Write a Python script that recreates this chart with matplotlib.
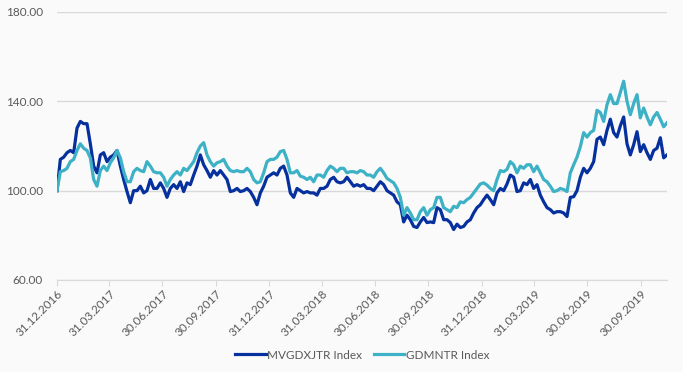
import pandas as pd
import matplotlib
matplotlib.use('Agg')
import matplotlib.pyplot as plt
import matplotlib.dates as mdates
from matplotlib.ticker import FormatStrFormatter

# Index levels (rebased to 100 at 31.12.2016), roughly every 6 days
mvgdxjtr = [
    100, 114, 115, 117, 118, 117, 128, 131, 130, 130, 121, 111,
    108, 116, 117, 113, 115, 116, 118, 111, 105, 99.6, 94.6, 100,
    100, 102, 99, 100, 105, 101, 101, 103.5, 101, 97, 101, 102.7,
    101, 104, 99.6, 103.5, 102.7, 107, 111, 116, 111.6, 109, 106, 109,
    107, 109, 107, 105, 99.6, 100, 101, 99.6, 100, 101, 99.6, 97,
    93.7, 99, 102, 106, 107, 108, 107, 110, 111, 107, 99, 97,
    101, 100, 99, 99.6, 99, 99, 98, 101, 101, 102, 105, 106,
    104, 103.5, 104, 106, 104, 102, 102.7, 102, 102.7, 101, 101, 100,
    102, 104, 102.7, 100, 99, 98, 95, 93.7, 86, 89, 87, 84,
    83.5, 86, 88, 85.7, 86, 85.7, 92.4, 91.5, 87, 87, 85.7, 82.6,
    85, 83.5, 84, 86, 87, 90, 92.4, 93.7, 96, 98, 96, 93.7,
    99, 101, 100, 103, 107, 106, 99.6, 100, 103.5, 102.7, 105, 101,
    102.7, 98, 95, 92.4, 91.5, 90, 90.6, 90.6, 90, 88.4, 97, 97.3,
    100, 106, 110, 108, 110, 113, 123, 124, 120.6, 127, 132, 126,
    124, 129, 133, 121, 116, 120.6, 126.4, 117.5, 120.6, 117, 114, 118,
    119, 123.7, 114.7, 116,
]
gdmntr = [
    100, 108.5, 109, 110, 113, 114, 118, 121, 119, 118, 114.7, 105,
    102, 109, 111, 109, 112.5, 114.7, 118, 114.7, 108.5, 104, 104, 108.5,
    110, 109, 108.5, 113, 111, 108.5, 108, 108, 106, 102, 105, 107,
    108.5, 107, 110, 109, 111, 113, 117, 120, 121.5, 116, 113, 111,
    112.5, 113, 114, 111, 109, 108.5, 109, 108.5, 108.5, 110, 108.5, 105,
    103.5, 104, 108, 113, 114, 114, 115, 117.5, 118, 114, 108, 108,
    109, 106.5, 106, 105, 106, 104, 107, 107, 106, 109, 111, 110,
    108.5, 110, 110, 108, 108.5, 108.5, 108, 109, 108.5, 107, 107, 106,
    108.5, 110, 108, 105.5, 104.5, 103.5, 101, 97, 89, 92.4, 90, 87,
    87, 90.6, 92.4, 89, 91.5, 92.4, 97, 97, 92.4, 91.5, 90.6, 93,
    92.4, 95, 94.6, 96, 97, 99, 101, 103, 103.5, 102.5, 101, 100,
    105, 109, 108.5, 109.5, 113, 111.6, 108, 111, 110, 111.6, 111.6, 108.5,
    111, 108, 105, 104, 102, 99.6, 100, 101, 100.5, 99.6, 108, 111.6,
    115, 119.7, 126, 124, 126, 127, 136, 135, 131, 138.5, 143, 139,
    139, 144, 149, 140, 134, 139, 143, 132.6, 137, 133, 129.5, 133,
    135, 132, 128.6, 130.4,
]
dates = pd.date_range('2016-12-31', '2019-11-14', periods=len(mvgdxjtr))
tick_dates = pd.to_datetime(['2016-12-31', '2017-03-31', '2017-06-30', '2017-09-30',
                             '2017-12-31', '2018-03-31', '2018-06-30', '2018-09-30',
                             '2018-12-31', '2019-03-31', '2019-06-30', '2019-09-30'])
y_ticks = [60, 100, 140, 180]

plt.rcParams['font.family'] = ['Lato', 'DejaVu Sans']

fig = plt.figure(figsize=(6.83, 3.72), dpi=100, facecolor='#FAFAFA')
ax = fig.add_axes([57 / 683, 1 - 280 / 372, 610 / 683, 268 / 372])
ax.set_facecolor('#FAFAFA')

ax.plot(dates, mvgdxjtr, color='#06309E', lw=2.3, label='MVGDXJTR Index')
ax.plot(dates, gdmntr, color='#3DB1C5', lw=2.3, label='GDMNTR Index')

ax.set_xlim(dates[0], dates[-1])
ax.set_ylim(60, 180)
ax.set_yticks(y_ticks)
ax.yaxis.set_major_formatter(FormatStrFormatter('%.2f'))
ax.set_xticks(tick_dates)
ax.xaxis.set_major_formatter(mdates.DateFormatter('%d.%m.%Y'))

ax.grid(axis='y', color='#D9D9D9', lw=1)
ax.set_axisbelow(True)
for s in ['top', 'right', 'left']:
    ax.spines[s].set_visible(False)
ax.spines['bottom'].set_color('#D9D9D9')
ax.tick_params(axis='y', length=0, pad=10, labelsize=8.5, labelcolor='#595959')
ax.tick_params(axis='x', length=4, color='#D9D9D9', labelsize=8.5, labelcolor='#595959', pad=2)
for lbl in ax.get_xticklabels():
    lbl.set_rotation(45)
    lbl.set_ha('right')
    lbl.set_rotation_mode('anchor')

ax.legend(loc='center', bbox_to_anchor=(0.5, -0.28), ncol=2, frameon=False,
          fontsize=8.5, labelcolor='#595959', handlelength=2.6, handletextpad=0.1,
          columnspacing=1.0)

plt.savefig('out.png', dpi=100, facecolor=fig.get_facecolor())
